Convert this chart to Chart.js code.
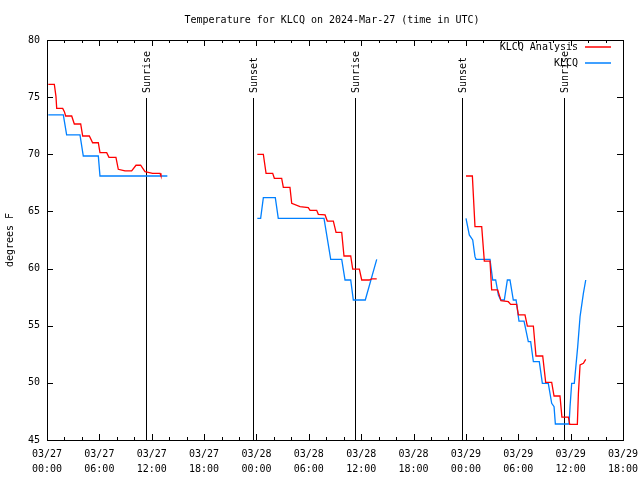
<!DOCTYPE html>
<html>
<head>
<meta charset="utf-8">
<script src="https://cdn.jsdelivr.net/npm/chart.js@4.4.1/dist/chart.umd.min.js"></script>
<style>
  html, body { margin: 0; padding: 0; background: #fff; }
  #wrap { width: 640px; height: 480px; }
</style>
</head>
<body>
<div id="wrap"><canvas id="myChart" width="640" height="480"></canvas></div>
<script>
// hours since 03/27 00:00 UTC, null breaks the line between the three runs
let analysisHours = [0.15,0.84,1.03,1.11,1.8,1.99,2.14,2.83,3.13,3.86,4.09,4.85,5.23,5.88,6.07,6.84,7.1,7.9,8.17,8.94,9.7,10.2,10.73,11.23,12.1,12.95,13.06,
  18,
  24.1,24.79,25.1,25.86,26.05,26.89,27.08,27.84,28.04,28.99,29.94,30.14,30.9,31.09,31.86,32.12,32.81,33.12,33.77,34.03,34.8,35.03,35.79,36.06,36.93,37.2,37.78,
  42,
  48.01,48.74,49.04,49.81,50.11,50.76,50.95,51.64,52.02,52.86,53.13,53.82,54.01,54.77,55.04,55.73,56.03,56.8,57.14,57.83,58.1,58.78,59.0,59.74,59.9,60.77,60.89,61.08,61.46,61.73];
let analysisTemps = [76.12,76.12,75.04,74.02,74.02,73.73,73.35,73.35,72.65,72.65,71.6,71.6,71.01,71.01,70.14,70.14,69.73,69.73,68.69,68.54,68.54,69.04,69.04,68.48,68.33,68.33,68.1,
  null,
  70.0,70.0,68.33,68.33,67.9,67.9,67.11,67.11,65.71,65.42,65.33,65.1,65.1,64.75,64.69,64.16,64.16,63.17,63.17,61.1,61.1,59.96,59.96,59.0,59.0,59.09,59.09,
  null,
  68.1,68.1,63.67,63.67,60.66,60.66,58.13,58.13,57.19,57.1,56.87,56.87,55.94,55.94,54.97,54.97,52.35,52.35,50.05,50.05,48.85,48.85,47.0,47.0,46.37,46.37,49.08,51.56,51.71,52.06];

let obsHours = [0.15,1.87,2.25,3.78,4.16,5.88,6.07,13.79,
  18,
  24.1,24.48,24.79,26.16,26.5,31.74,32.51,33.77,34.15,34.8,35.1,36.47,37.78,
  42,
  48.01,48.39,48.78,49.04,49.16,50.76,51.07,51.41,51.72,51.99,52.4,52.75,53.05,53.43,53.75,54.08,54.66,55.15,55.42,55.73,56.41,56.76,57.44,57.83,58.1,58.25,59.82,59.93,60.12,60.42,60.81,61.08,61.46,61.73];
let obsTemps = [73.44,73.44,71.69,71.69,69.85,69.85,68.1,68.1,
  null,
  64.4,64.4,66.2,66.2,64.4,64.4,60.81,60.81,59.0,59.0,57.25,57.25,60.81,
  null,
  64.4,62.94,62.5,61.04,60.81,60.81,59.0,59.0,57.69,57.25,57.25,59.0,59.0,57.25,57.25,55.41,55.41,53.6,53.6,51.85,51.85,49.96,49.96,48.21,47.92,46.4,46.4,47.9,49.96,49.96,53.17,55.79,57.83,59.0];

let sunHours = [11.4, 23.57, 35.33, 47.59, 59.28];
let sunLabels = ['Sunrise', 'Sunset', 'Sunrise', 'Sunset', 'Sunrise'];

let xTickHours = [0, 6, 12, 18, 24, 30, 36, 42, 48, 54, 60, 66];
let xTickLabels = [['03/27','00:00'],['03/27','06:00'],['03/27','12:00'],['03/27','18:00'],
  ['03/28','00:00'],['03/28','06:00'],['03/28','12:00'],['03/28','18:00'],
  ['03/29','00:00'],['03/29','06:00'],['03/29','12:00'],['03/29','18:00']];
let yTicks = [45, 50, 55, 60, 65, 70, 75, 80];

let titleText = 'Temperature for KLCQ on 2024-Mar-27 (time in UTC)';
let yTitle = 'degrees F';

let monoFont = '"DejaVu Sans Mono", "Liberation Mono", monospace';
let red = 'rgb(255,0,0)';
let blue = 'rgb(0,128,255)';

let toPoints = function(xs, ys){
  let pts = [];
  for(let i=0;i<xs.length;i++){
    pts.push({x: xs[i], y: ys[i]});
  }
  return pts;
}

let gnuFrame = {
  id: 'gnuFrame',
  beforeDatasetsDraw(chart){
    let ctx = chart.ctx;
    let xs = chart.scales.x;
    let a = chart.chartArea;
    ctx.save();
    ctx.strokeStyle = '#000';
    ctx.lineWidth = 1;
    for(let i=0;i<sunHours.length;i++){
      let px = Math.round(xs.getPixelForValue(sunHours[i])) + 0.5;
      ctx.beginPath();
      ctx.moveTo(px, 98);
      ctx.lineTo(px, a.bottom);
      ctx.stroke();
    }
    ctx.restore();
  },
  afterDraw(chart){
    let ctx = chart.ctx;
    let xs = chart.scales.x;
    let ys = chart.scales.y;
    let a = chart.chartArea;
    ctx.save();
    ctx.strokeStyle = '#000';
    ctx.lineWidth = 1;
    // border
    ctx.strokeRect(Math.round(a.left)+0.5, Math.round(a.top)+0.5, Math.round(a.right-a.left), Math.round(a.bottom-a.top));
    // x ticks (minor every 2h, major every 6h), inward on bottom and top
    ctx.beginPath();
    for(let h=0;h<=66;h+=2){
      let px = Math.round(xs.getPixelForValue(h)) + 0.5;
      let len = (h % 6 == 0) ? 6 : 3;
      ctx.moveTo(px, a.bottom); ctx.lineTo(px, a.bottom - len);
      ctx.moveTo(px, a.top); ctx.lineTo(px, a.top + len);
    }
    for(let i=0;i<yTicks.length;i++){
      let py = Math.round(ys.getPixelForValue(yTicks[i])) + 0.5;
      ctx.moveTo(a.left, py); ctx.lineTo(a.left + 6, py);
      ctx.moveTo(a.right, py); ctx.lineTo(a.right - 6, py);
    }
    ctx.stroke();

    ctx.fillStyle = '#000';
    ctx.font = '10px ' + monoFont;
    // title
    ctx.textAlign = 'center';
    ctx.textBaseline = 'middle';
    ctx.fillText(titleText, 332, 20);
    // y axis title
    ctx.save();
    ctx.translate(10, 240);
    ctx.rotate(-Math.PI/2);
    ctx.fillText(yTitle, 0, 0);
    ctx.restore();
    // sun labels
    for(let i=0;i<sunHours.length;i++){
      let px = Math.round(xs.getPixelForValue(sunHours[i])) + 1;
      ctx.save();
      ctx.translate(px, 93);
      ctx.rotate(-Math.PI/2);
      ctx.textAlign = 'left';
      ctx.fillText(sunLabels[i], 0, 0);
      ctx.restore();
    }
    // legend
    let names = chart.data.datasets.map(d => d.label);
    let colors = chart.data.datasets.map(d => d.borderColor);
    ctx.textAlign = 'right';
    for(let i=0;i<names.length;i++){
      let ty = 47 + i*16;
      ctx.fillStyle = '#000';
      ctx.fillText(names[i], 578, ty);
      ctx.strokeStyle = colors[i];
      ctx.lineWidth = 1.5;
      ctx.beginPath();
      ctx.moveTo(585, ty);
      ctx.lineTo(611, ty);
      ctx.stroke();
    }
    ctx.restore();
  }
};

let cur_chart = new Chart(
  document.getElementById('myChart'),
  {
    type: 'line',
    data: {
      datasets: [
        {
          label: 'KLCQ Analysis',
          data: toPoints(analysisHours, analysisTemps),
          borderColor: red,
          backgroundColor: red,
          borderWidth: 1.3,
          pointRadius: 0,
          tension: 0,
          spanGaps: false
        },
        {
          label: 'KLCQ',
          data: toPoints(obsHours, obsTemps),
          borderColor: blue,
          backgroundColor: blue,
          borderWidth: 1.3,
          pointRadius: 0,
          tension: 0,
          spanGaps: false
        }
      ]
    },
    options: {
      responsive: false,
      animation: false,
      events: [],
      layout: { padding: { left: 0, right: 17, top: 40, bottom: 0 }, autoPadding: false },
      plugins: {
        legend: { display: false },
        title: { display: false },
        tooltip: { enabled: false }
      },
      scales: {
        x: {
          type: 'linear',
          min: 0,
          max: 66,
          afterFit: s => { s.height = 40; s.paddingLeft = 0; s.paddingRight = 0; },
          afterBuildTicks: s => { s.ticks = xTickHours.map(v => ({value: v})); },
          grid: { display: false, drawTicks: false },
          border: { display: false },
          ticks: {
            autoSkip: false,
            maxRotation: 0,
            padding: 7,
            color: '#000',
            font: { family: monoFont, size: 10, lineHeight: 1.5 },
            callback: function(v){
              let i = xTickHours.indexOf(v);
              return i >= 0 ? xTickLabels[i] : '';
            }
          }
        },
        y: {
          min: 45,
          max: 80,
          afterFit: s => { s.width = 47; s.paddingTop = 0; s.paddingBottom = 0; },
          afterBuildTicks: s => { s.ticks = yTicks.map(v => ({value: v})); },
          grid: { display: false, drawTicks: false },
          border: { display: false },
          ticks: {
            padding: 7,
            color: '#000',
            font: { family: monoFont, size: 10 }
          }
        }
      }
    },
    plugins: [gnuFrame]
  }
);
</script>
</body>
</html>
